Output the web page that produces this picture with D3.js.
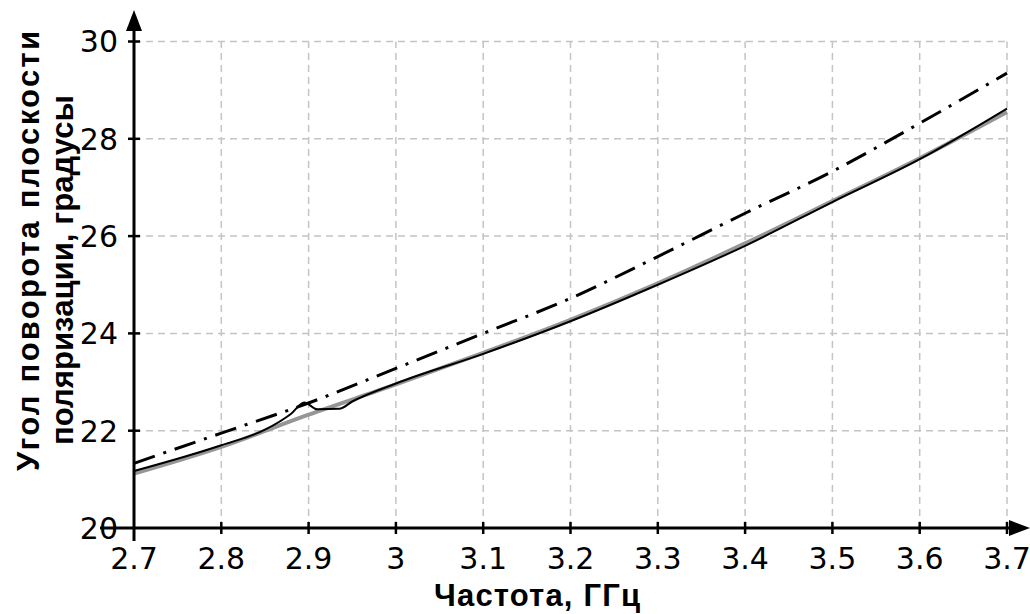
<!DOCTYPE html>
<html>
<head>
<meta charset="utf-8">
<script src="https://cdn.jsdelivr.net/npm/d3@7"></script>
<style>
  body { margin: 0; background: #fff; }
  svg { display: block; }
</style>
</head>
<body>
<div id="chart"></div>
<script>
// frequency, GHz
const freqDashDot = [2.7, 2.8, 2.9, 3.0, 3.1, 3.2, 3.3, 3.4, 3.5, 3.6, 3.7];
const angleDashDot = [21.33, 21.95, 22.57, 23.28, 24.0, 24.72, 25.58, 26.47, 27.33, 28.32, 29.35];

const freqGray = [2.7, 2.8, 2.9, 3.0, 3.1, 3.2, 3.3, 3.4, 3.5, 3.6, 3.7];
const angleGray = [21.12, 21.67, 22.33, 22.95, 23.6, 24.28, 25.03, 25.85, 26.72, 27.6, 28.55];

const freqBlack = [2.7, 2.8, 2.85, 2.88, 2.895, 2.91, 2.935, 2.95, 3.0, 3.1, 3.2, 3.3, 3.4, 3.5, 3.6, 3.7];
const angleBlack = [21.17, 21.7, 22.02, 22.35, 22.58, 22.44, 22.45, 22.6, 22.97, 23.58, 24.25, 25.0, 25.8, 26.7, 27.58, 28.62];

const xTicks = [2.7, 2.8, 2.9, 3.0, 3.1, 3.2, 3.3, 3.4, 3.5, 3.6, 3.7];
const xTickLabels = ["2.7", "2.8", "2.9", "3", "3.1", "3.2", "3.3", "3.4", "3.5", "3.6", "3.7"];
const yTicks = [20, 22, 24, 26, 28, 30];

const xTitle = "Частота, ГГц";
const yTitle1 = "Угол поворота плоскости";
const yTitle2 = "поляризации, градусы";

const width = 1030, height = 614;

const svg = d3.select("#chart")
  .append("svg")
  .attr("width", width)
  .attr("height", height);

const x = d3.scaleLinear().domain([2.7, 3.7]).range([134, 1007]);
const y = d3.scaleLinear().domain([20, 30]).range([528, 41.5]);

// grid
const grid = svg.append("g")
  .attr("stroke", "#c4c4c4")
  .attr("stroke-width", 1.5)
  .attr("stroke-dasharray", "7 5");

grid.selectAll(".gx")
  .data(xTicks.slice(1))
  .enter()
  .append("line")
  .attr("x1", d => x(d)).attr("x2", d => x(d))
  .attr("y1", y(20)).attr("y2", y(30));

grid.selectAll(".gy")
  .data(yTicks.slice(1))
  .enter()
  .append("line")
  .attr("x1", x(2.7)).attr("x2", x(3.7))
  .attr("y1", d => y(d)).attr("y2", d => y(d));

// series
const line = d3.line()
  .x(d => x(d[0]))
  .y(d => y(d[1]))
  .curve(d3.curveMonotoneX);

svg.append("path")
  .datum(d3.zip(freqGray, angleGray))
  .attr("d", line)
  .attr("fill", "none")
  .attr("stroke", "#969696")
  .attr("stroke-width", 4);

svg.append("path")
  .datum(d3.zip(freqBlack, angleBlack))
  .attr("d", line)
  .attr("fill", "none")
  .attr("stroke", "#000")
  .attr("stroke-width", 2);

svg.append("path")
  .datum(d3.zip(freqDashDot, angleDashDot))
  .attr("d", line)
  .attr("fill", "none")
  .attr("stroke", "#000")
  .attr("stroke-width", 3)
  .attr("stroke-dasharray", "22 9 3 9");

// axes
const axes = svg.append("g").attr("stroke", "#000");

axes.append("line")
  .attr("x1", 100).attr("x2", 1016)
  .attr("y1", y(20)).attr("y2", y(20))
  .attr("stroke-width", 3);

axes.append("line")
  .attr("x1", x(2.7)).attr("x2", x(2.7))
  .attr("y1", 541).attr("y2", 22)
  .attr("stroke-width", 3);

svg.append("path")
  .attr("d", `M${x(2.7)},10 L${x(2.7) - 8},31 L${x(2.7) + 8},31 Z`)
  .attr("fill", "#000");

svg.append("path")
  .attr("d", `M1030,${y(20)} L1009,${y(20) - 8} L1009,${y(20) + 8} Z`)
  .attr("fill", "#000");

// tick marks
axes.selectAll(".tx")
  .data(xTicks.slice(1))
  .enter()
  .append("line")
  .attr("x1", d => x(d)).attr("x2", d => x(d))
  .attr("y1", y(20) - 6).attr("y2", y(20) + 6)
  .attr("stroke-width", 2.5);

axes.selectAll(".ty")
  .data(yTicks.slice(1))
  .enter()
  .append("line")
  .attr("x1", x(2.7) - 6).attr("x2", x(2.7) + 6)
  .attr("y1", d => y(d)).attr("y2", d => y(d))
  .attr("stroke-width", 2.5);

// tick labels
svg.selectAll(".xl")
  .data(xTicks)
  .enter()
  .append("text")
  .attr("x", d => x(d))
  .attr("y", 569)
  .attr("text-anchor", "middle")
  .style("font-family", "DejaVu Sans")
  .style("font-size", "30px")
  .text((d, i) => xTickLabels[i]);

svg.selectAll(".yl")
  .data(yTicks)
  .enter()
  .append("text")
  .attr("x", 118)
  .attr("y", d => y(d))
  .attr("dy", "0.36em")
  .attr("text-anchor", "end")
  .style("font-family", "DejaVu Sans")
  .style("font-size", "30px")
  .text(d => d);

// titles
svg.append("text")
  .attr("x", 537)
  .attr("y", 606)
  .attr("text-anchor", "middle")
  .attr("textLength", 206)
  .style("font-family", "Liberation Sans")
  .style("font-weight", "bold")
  .style("font-size", "31px")
  .text(xTitle);

svg.append("text")
  .attr("transform", "translate(39, 251) rotate(-90)")
  .attr("text-anchor", "middle")
  .attr("textLength", 440)
  .style("font-family", "Liberation Sans")
  .style("font-weight", "bold")
  .style("font-size", "31px")
  .text(yTitle1);

svg.append("text")
  .attr("transform", "translate(73, 270) rotate(-90)")
  .attr("text-anchor", "middle")
  .attr("textLength", 350)
  .style("font-family", "Liberation Sans")
  .style("font-weight", "bold")
  .style("font-size", "31px")
  .text(yTitle2);
</script>
</body>
</html>
